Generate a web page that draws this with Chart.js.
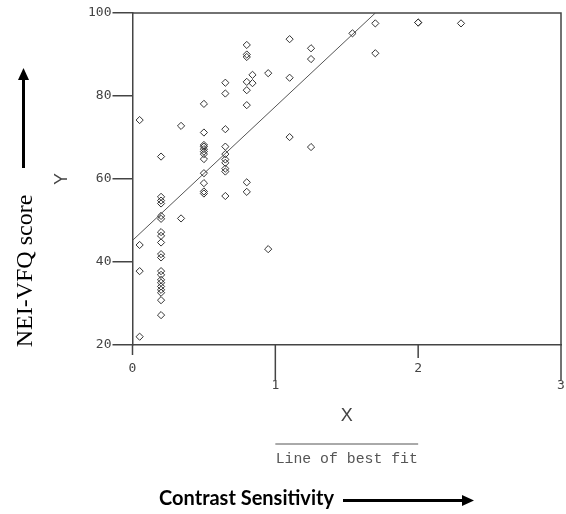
<!DOCTYPE html>
<html>
<head>
<meta charset="utf-8">
<script src="https://cdn.jsdelivr.net/npm/chart.js@4.4.1/dist/chart.umd.min.js"></script>
<style>
  html, body { margin: 0; padding: 0; background: #fff; }
</style>
</head>
<body>
<canvas id="csChart" width="566" height="514"></canvas>
<script>
// contrast sensitivity (x) and NEI-VFQ score (y)
var csValues = [
    0.05, 0.05, 0.05, 0.05,
    0.2, 0.2, 0.2, 0.2, 0.2, 0.2, 0.2, 0.2, 0.2, 0.2,
    0.2, 0.2, 0.2, 0.2, 0.2, 0.2, 0.2, 0.2, 0.2, 0.2,
    0.34, 0.34,
    0.5, 0.5, 0.5, 0.5, 0.5, 0.5, 0.5, 0.5, 0.5, 0.5, 0.5, 0.5,
    0.65, 0.65, 0.65, 0.65, 0.65, 0.65, 0.65, 0.65, 0.65, 0.65,
    0.8, 0.8, 0.8, 0.8, 0.8, 0.8, 0.8, 0.8,
    0.84, 0.84,
    0.95, 0.95,
    1.1, 1.1, 1.1,
    1.25, 1.25, 1.25,
    1.54,
    1.7, 1.7,
    2.0, 2.0,
    2.3
];
var vfqScores = [
    74.2, 44.1, 37.8, 22.0,
    65.4, 55.7, 54.8, 54.1, 51.1, 50.4, 47.2, 46.3, 44.7, 41.9,
    41.1, 37.8, 36.9, 35.7, 35.0, 34.1, 33.3, 32.6, 30.8, 27.2,
    72.8, 50.5,
    78.1, 71.2, 68.2, 67.8, 67.2, 66.6, 66.0, 64.8, 61.4, 59.0, 57.0, 56.5,
    83.2, 80.6, 72.0, 67.8, 66.0, 64.7, 63.9, 62.5, 61.8, 55.9,
    92.3, 90.0, 89.4, 83.4, 81.4, 77.8, 59.2, 56.9,
    85.1, 83.1,
    85.5, 43.1,
    93.7, 84.4, 70.1,
    91.5, 88.9, 67.7,
    95.1,
    97.5, 90.3,
    97.7, 97.7,
    97.5
];

// line of best fit end points
var fitX = [0, 1.7];
var fitY = [45.2, 100];

var xTicks = [0, 1, 2, 3];
var yTicks = [20, 40, 60, 80, 100];

var axisColor = '#444';
var monoFont = { family: "'DejaVu Sans Mono', monospace", size: 13, lineHeight: 1.3 };

function toPoints(xs, ys) {
    return xs.map(function (x, i) { return { x: x, y: ys[i] }; });
}

function arrow(ctx, x1, y1, x2, y2) {
    var ang = Math.atan2(y2 - y1, x2 - x1);
    var head = 12, half = 5.5;
    var bx = x2 - Math.cos(ang) * head, by = y2 - Math.sin(ang) * head;
    ctx.beginPath();
    ctx.moveTo(x1, y1);
    ctx.lineTo(bx, by);
    ctx.stroke();
    ctx.beginPath();
    ctx.moveTo(x2, y2);
    ctx.lineTo(bx + Math.sin(ang) * half, by - Math.cos(ang) * half);
    ctx.lineTo(bx - Math.sin(ang) * half, by + Math.cos(ang) * half);
    ctx.closePath();
    ctx.fill();
}

// frame, staggered x ticks, the fit key and the outer captions
var extras = {
    id: 'extras',
    afterDraw: function (chart) {
        var ctx = chart.ctx;
        var area = chart.chartArea;
        var xs = chart.scales.x;
        var tickLens = [10, 35, 13, 35];
        ctx.save();

        ctx.strokeStyle = axisColor;
        ctx.lineWidth = 1.5;
        ctx.beginPath();
        ctx.moveTo(area.left, area.top);
        ctx.lineTo(area.right, area.top);
        ctx.lineTo(area.right, area.bottom);
        ctx.stroke();

        xs.ticks.forEach(function (t, i) {
            var px = xs.getPixelForValue(t.value);
            ctx.beginPath();
            ctx.moveTo(px, area.bottom);
            ctx.lineTo(px, area.bottom + tickLens[i % tickLens.length]);
            ctx.stroke();
        });

        // key: a line sample over its caption
        var k1 = xs.getPixelForValue(1), k2 = xs.getPixelForValue(2);
        ctx.strokeStyle = '#555';
        ctx.lineWidth = 1;
        ctx.beginPath();
        ctx.moveTo(k1, 444);
        ctx.lineTo(k2, 444);
        ctx.stroke();
        ctx.fillStyle = '#555';
        ctx.font = "14.8px 'Liberation Mono', monospace";
        ctx.textAlign = 'center';
        ctx.textBaseline = 'middle';
        ctx.fillText('Line of best fit', (k1 + k2) / 2, 459);

        // outer captions with arrows
        ctx.fillStyle = '#000';
        ctx.strokeStyle = '#000';
        ctx.lineWidth = 3;
        ctx.font = "bold 20px Lato, sans-serif";
        ctx.textAlign = 'center';
        ctx.fillText('Contrast Sensitivity', 246.5, 499);
        arrow(ctx, 343, 500.5, 474, 500.5);

        ctx.save();
        ctx.translate(26, 271);
        ctx.rotate(-Math.PI / 2);
        ctx.font = "24px 'Liberation Serif', serif";
        ctx.fillText('NEI-VFQ score', 0, 0);
        ctx.restore();
        arrow(ctx, 23.5, 168, 23.5, 68);

        ctx.restore();
    }
};

var ctx = document.getElementById('csChart').getContext('2d');
var csChart = new Chart(ctx, {
    type: 'scatter',
    data: {
        datasets: [{
            label: 'Patients',
            data: toPoints(csValues, vfqScores),
            pointStyle: 'rectRot',
            pointRadius: 3.6,
            borderWidth: 1,
            borderColor: '#333',
            backgroundColor: 'rgba(0,0,0,0)'
        }, {
            label: 'Line of best fit',
            data: toPoints(fitX, fitY),
            showLine: true,
            pointRadius: 0,
            borderColor: '#555',
            borderWidth: 1
        }]
    },
    options: {
        responsive: false,
        animation: false,
        events: [],
        layout: { padding: { left: 51.2, right: 4.3, top: 13, bottom: 87.2 } },
        plugins: {
            legend: { display: false },
            tooltip: { enabled: false }
        },
        scales: {
            x: {
                type: 'linear',
                min: 0,
                max: 3,
                afterBuildTicks: function (s) {
                    s.ticks = xTicks.map(function (v) { return { value: v }; });
                },
                afterFit: function (s) {
                    s.height = 81.8;
                    s.paddingLeft = 0;
                    s.paddingRight = 0;
                },
                ticks: {
                    color: axisColor,
                    font: monoFont,
                    padding: 5.5,
                    maxRotation: 0,
                    callback: function (v, i) { return i % 2 ? ['', String(v)] : String(v); }
                },
                grid: {
                    drawOnChartArea: false,
                    tickLength: 10,
                    tickColor: 'rgba(0,0,0,0)'
                },
                border: { display: true, color: axisColor, width: 1.5 },
                title: {
                    display: true,
                    text: 'X',
                    color: axisColor,
                    padding: 0,
                    font: { family: "'Liberation Sans', Arial, sans-serif", size: 18 }
                }
            },
            y: {
                type: 'linear',
                min: 20,
                max: 100,
                afterBuildTicks: function (s) {
                    s.ticks = yTicks.map(function (v) { return { value: v }; });
                },
                afterFit: function (s) { s.width = 81.3; },
                ticks: { color: axisColor, font: monoFont, padding: 1 },
                grid: {
                    drawOnChartArea: false,
                    tickLength: 20,
                    tickColor: axisColor,
                    lineWidth: 1.5
                },
                border: { display: true, color: axisColor, width: 1.5 },
                title: {
                    display: true,
                    text: 'Y',
                    color: axisColor,
                    padding: 0,
                    font: { family: "'Liberation Sans', Arial, sans-serif", size: 18 }
                }
            }
        }
    },
    plugins: [extras]
});
</script>
</body>
</html>
